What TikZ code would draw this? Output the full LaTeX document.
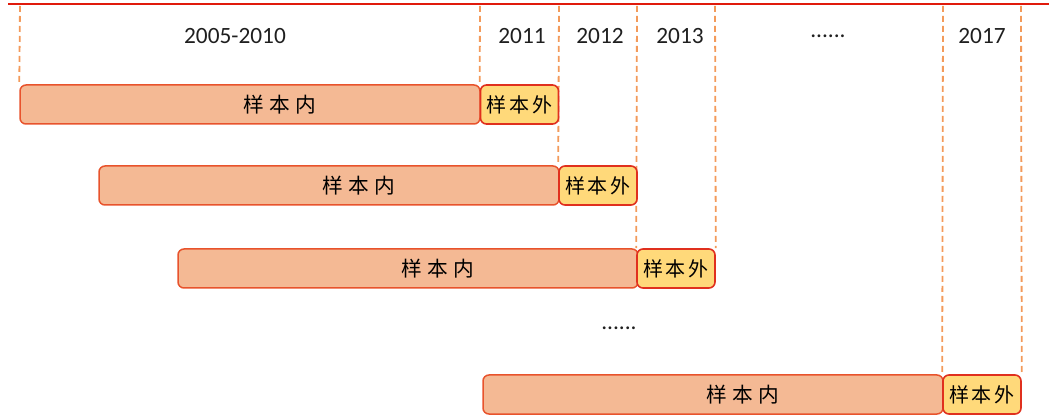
\documentclass[tikz,border=0pt]{standalone}
\usepackage{fontspec}
\usetikzlibrary{backgrounds}
\setmainfont{Carlito}
\newfontfamily\cjk{Noto Sans CJK SC}
\newlength\px
\setlength\px{0.75pt}
\definecolor{infill}{HTML}{F4B994}
\definecolor{indraw}{HTML}{E8532C}
\definecolor{outfill}{HTML}{FFD97A}
\definecolor{outdraw}{HTML}{E0301E}
\definecolor{dashc}{HTML}{F39A5A}
\definecolor{topred}{HTML}{E01A0C}
\newcommand\intext{\hspace*{60\px}样\hspace{0.25em}本\hspace{0.25em}内}
\newcommand\outtext{样\hspace{0.15em}本\hspace{0.15em}外}
\begin{document}
\begin{tikzpicture}[x=0.75pt,y=-0.75pt,
  inbox/.style={draw=indraw,fill=infill,line width=1.5\px,rounded corners=6\px,
    minimum height=39\px,minimum width=460\px,inner sep=0pt,font=\cjk\fontsize{15.5pt}{18pt}\selectfont},
  outbox/.style={draw=outdraw,fill=outfill,line width=1.6\px,rounded corners=6\px,
    minimum height=39\px,minimum width=78\px,inner sep=0pt,font=\cjk\fontsize{15pt}{18pt}\selectfont},
  guide/.style={draw=dashc,line width=1.8\px,dash pattern=on 6\px off 4\px},
  year/.style={font=\fontsize{17.5pt}{20pt}\selectfont,text=black!88,inner sep=0pt}]
\useasboundingbox (0,0) rectangle (1049,416);
% top line
\coordinate (L) at (8,4);
\coordinate (R) at (1049,4);
\draw[topred,line width=2.2\px] (L) -- (R);
% guide tops
\foreach \n/\x in {a/20,b/480,c/559,d/637,e/715,f/943,g/1021}{\coordinate (t\n) at (\x,6);}
% boxes
\node[inbox] (in1) at (250,104.5) {\intext};
\node[outbox] (out1) at (519.5,104.5) {\outtext};
\node[inbox] (in2) at (329,185.5) {\intext};
\node[outbox] (out2) at (598,185.5) {\outtext};
\node[inbox] (in3) at (408,268.5) {\intext};
\node[outbox] (out3) at (676,268.5) {\outtext};
\node[inbox] (in4) at (713,394.5) {\intext};
\node[outbox] (out4) at (982,394.5) {\outtext};
% guides
\begin{pgfonlayer}{background}
\path[guide] (ta) -- (in1.north west);
\path[guide] (tb) -- (out1.north west);
\path[guide] (tc) -- (out2.north west);
\path[guide] (td) -- (out3.north west);
\path[guide] (te) -- (out3.north east);
\path[guide] (tf) -- (out4.north west);
\path[guide] (tg) -- (out4.north east);
\end{pgfonlayer}
% year labels
\node[year] (y1) at (235,36) {2005-2010};
\node[year] (y2) at (522,36) {2011};
\node[year] (y3) at (600,36) {2012};
\node[year] (y4) at (680,36) {2013};
\node[year] (y5) at (828,36) {......};
\node[year] (y6) at (982,36) {2017};
\node[year] (dots) at (619,328) {......};
\end{tikzpicture}
\end{document}
